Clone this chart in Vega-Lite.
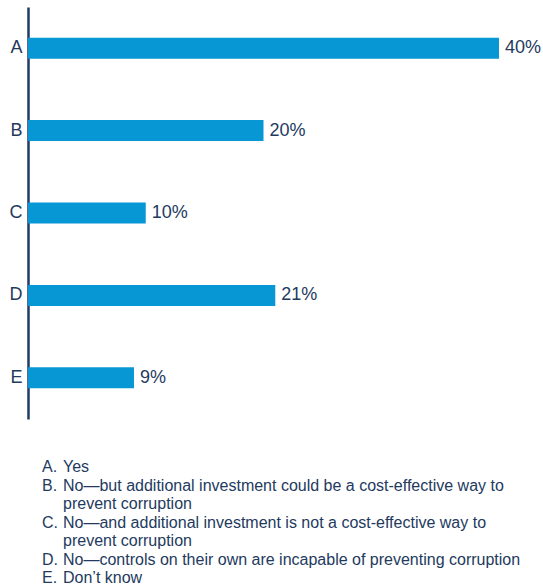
{
  "$schema": "https://vega.github.io/schema/vega-lite/v6.json",
  "autosize": "none",
  "width": 515,
  "height": 588,
  "padding": {"left": 28, "top": 0, "right": 0, "bottom": 0},
  "background": "white",
  "config": {
    "view": {"stroke": null},
    "font": "Liberation Sans",
    "text": {"font": "Liberation Sans", "color": "#233a5e"}
  },
  "datasets": {
    "bars": [
      {"option": "A", "pct": 0.40},
      {"option": "B", "pct": 0.20},
      {"option": "C", "pct": 0.10},
      {"option": "D", "pct": 0.21},
      {"option": "E", "pct": 0.09}
    ],
    "legend": [
      {"line": 1, "part": "letter", "txt": "A."},
      {"line": 1, "part": "text", "txt": "Yes"},
      {"line": 2, "part": "letter", "txt": "B."},
      {"line": 2, "part": "text", "txt": "No\u2014but additional investment could be a cost-effective way to"},
      {"line": 3, "part": "text", "txt": "prevent corruption"},
      {"line": 4, "part": "letter", "txt": "C."},
      {"line": 4, "part": "text", "txt": "No\u2014and additional investment is not a cost-effective way to"},
      {"line": 5, "part": "text", "txt": "prevent corruption"},
      {"line": 6, "part": "letter", "txt": "D."},
      {"line": 6, "part": "text", "txt": "No\u2014controls on their own are incapable of preventing corruption"},
      {"line": 7, "part": "letter", "txt": "E."},
      {"line": 7, "part": "text", "txt": "Don\u2019t know"}
    ]
  },
  "layer": [
    {
      "data": {"name": "bars"},
      "encoding": {
        "y": {
          "field": "option",
          "type": "nominal",
          "sort": null,
          "scale": {"range": [7, 419], "paddingInner": 0, "paddingOuter": 0},
          "axis": {
            "title": null,
            "ticks": false,
            "grid": false,
            "domainColor": "#1f3a63",
            "domainWidth": 2.5,
            "labelFont": "Liberation Sans",
            "labelFontSize": 18,
            "labelColor": "#233a5e",
            "labelPadding": 6
          }
        },
        "x": {
          "field": "pct",
          "type": "quantitative",
          "scale": {"domain": [0, 0.4], "range": [0, 471], "nice": false},
          "axis": null
        }
      },
      "layer": [
        {"mark": {"type": "bar", "height": 21, "color": "#0797d5"}},
        {
          "mark": {"type": "text", "align": "left", "baseline": "middle", "dx": 6, "fontSize": 18, "color": "#233a5e"},
          "encoding": {"text": {"field": "pct", "type": "quantitative", "format": ".0%"}}
        }
      ]
    },
    {
      "data": {"name": "legend"},
      "mark": {"type": "text", "align": "left", "baseline": "middle", "fontSize": 16, "color": "#233a5e"},
      "encoding": {
        "y": {
          "field": "line",
          "type": "ordinal",
          "scale": {"type": "point", "range": [467, 578], "padding": 0},
          "axis": null
        },
        "x": {
          "field": "part",
          "type": "nominal",
          "scale": {"type": "point", "domain": ["letter", "text"], "range": [14, 35], "padding": 0},
          "axis": null
        },
        "text": {"field": "txt"}
      }
    }
  ],
  "resolve": {
    "scale": {"x": "independent", "y": "independent"},
    "axis": {"x": "independent", "y": "independent"}
  }
}
